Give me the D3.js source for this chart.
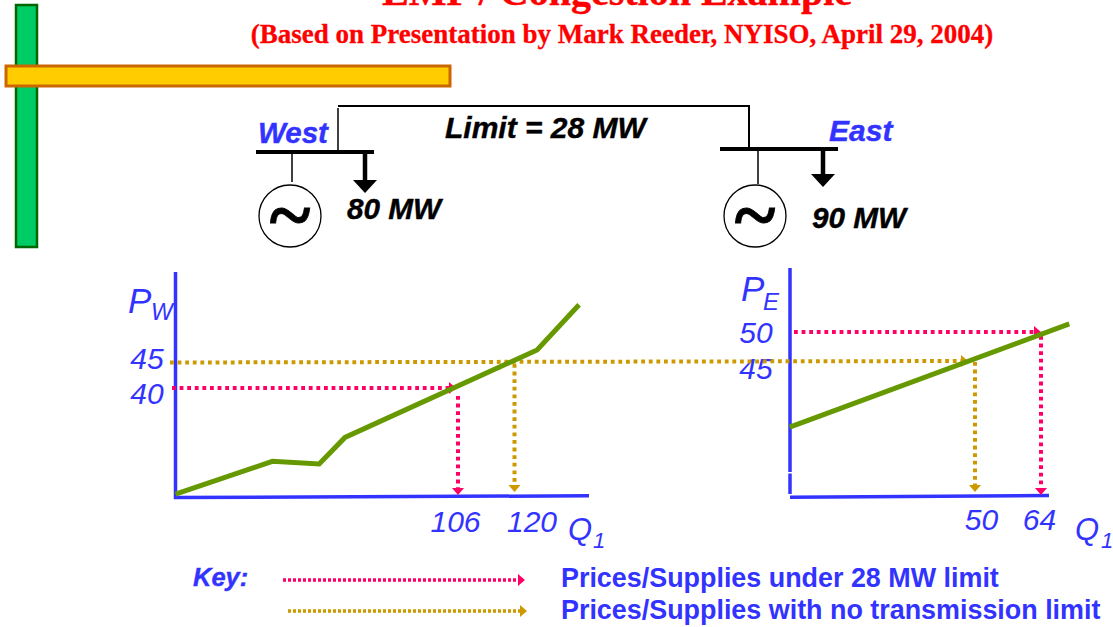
<!DOCTYPE html>
<html><head><meta charset="utf-8">
<script src="https://cdn.jsdelivr.net/npm/d3@7"></script>
<style>html,body{margin:0;padding:0;background:#fff;overflow:hidden}svg{display:block}</style>
</head><body><div id="c"></div>
<script>
// Data
const titleText = "LMP / Congestion Example";
const subtitleText = "(Based on Presentation by Mark Reeder, NYISO, April 29, 2004)";
const limitText = "Limit = 28 MW";
const westSupplyQ = [36, 60, 71.6, 78, 125.6, 136];
const westSupplyP = [19.6, 25.9, 25.4, 30.5, 47.3, 56];
const eastSupplyQ = [10.7, 70];
const eastSupplyP = [33.6, 51.4];
const westQTicks = [106, 120];
const westPTicks = [40, 45];
const eastQTicks = [50, 64];
const eastPTicks = [45, 50];
const westLimited = {p: 40, q: 106};
const westUnlimited = {p: 45, q: 120};
const eastLimited = {p: 50, q: 64};
const eastUnlimited = {p: 45, q: 50};
const keyLabels = ["Prices/Supplies under 28 MW limit", "Prices/Supplies with no transmission limit"];

const BLUE="#3333ff", GREEN="#669900", PINK="#ff0066", GOLD="#cc9900";
const SANS="'Liberation Sans',Arial,sans-serif", SERIF="'Liberation Serif',serif";
const svg=d3.select("#c").append("svg").attr("width",1113).attr("height",627);

// Scales
const xW=d3.scaleLinear().domain([106,120]).range([458,514.5]);
const yW=d3.scaleLinear().domain([40,45]).range([388,362]);
const xE=d3.scaleLinear().domain([50,64]).range([975,1041]);
const yE=d3.scaleLinear().domain([45,50]).range([361,332]);

function txt(s,x,y,size,fill,o={}){
  const t=svg.append("text").attr("x",x).attr("y",y).text(s)
   .attr("font-family",o.family||SANS).attr("font-size",size).attr("fill",fill)
   .attr("font-weight",o.weight||"normal").attr("font-style",o.style||"normal")
   .attr("text-anchor",o.anchor||"start");
  if(o.heavy) t.attr("stroke",fill).attr("stroke-width",o.heavy);
  return t;
}
function line(x1,y1,x2,y2,c,w,dash){
  const l=svg.append("line").attr("x1",x1).attr("y1",y1).attr("x2",x2).attr("y2",y2)
    .attr("stroke",c).attr("stroke-width",w);
  if(dash) l.attr("stroke-dasharray",dash);
  return l;
}
function head(x,y,dir,c,s=6){
  const p = dir==="r" ? [[x,y],[x-s-1,y-s],[x-s-1,y+s]] : [[x,y],[x-s,y-s-1],[x+s,y-s-1]];
  svg.append("path").attr("d",d3.line()(p)+"Z").attr("fill",c);
}

// Decorative bars
svg.append("rect").attr("x",16).attr("y",5).attr("width",21).attr("height",242)
  .attr("fill","#00cc66").attr("stroke","#006600").attr("stroke-width",2.5);
svg.append("rect").attr("x",6).attr("y",66).attr("width",444).attr("height",20)
  .attr("fill","#ffcc00").attr("stroke","#cc6600").attr("stroke-width",3);

// Titles
txt(titleText,617,5,40,"#ff0000",{family:SERIF,weight:"bold",anchor:"middle",heavy:.4});
txt(subtitleText,622,43,27,"#ff0000",{family:SERIF,weight:"bold",anchor:"middle",heavy:.3});

// One-line diagram
line(338,106,750,106,"#000",2);
line(338,108,338,151,"#000",1.5);
line(749,106,749,148,"#000",2);
line(256,152,374,152,"#000",4);
line(720,149,838,149,"#000",4);
line(292,153,292,182,"#000",1.5);
line(758,150,758,184,"#000",1.5);
line(365,153,365,184,"#000",4.5);
line(823,150,823,178,"#000",4.5);
head(365,193,"d","#000",12);
head(823,187,"d","#000",12);
svg.selectAll("circle.gen").data([290,755]).join("circle").attr("class","gen")
  .attr("cx",d=>d).attr("cy",216).attr("r",31).attr("fill","#fff").attr("stroke","#000").attr("stroke-width",1.3);
txt("~",290,241,78,"#000",{family:SERIF,weight:"bold",anchor:"middle",heavy:.8});
txt("~",755,241,78,"#000",{family:SERIF,weight:"bold",anchor:"middle",heavy:.8});
const bi={weight:"bold",style:"italic",heavy:.4};
txt("West",258,143,29.5,BLUE,bi);
txt("East",829,141,30,BLUE,bi);
txt(limitText,445,138,30,"#000",bi);
txt("80 MW",347,219,29.7,"#000",bi);
txt("90 MW",812,228,29.7,"#000",bi);

// Axes
function axis(gen,ticks,offs,attr){
  const g=svg.append("g").call(gen.tickValues(ticks).tickSize(0).tickFormat(d3.format("d")));
  g.select(".domain").remove();
  g.selectAll("text").attr("font-family",SANS).attr("font-size",30).attr("font-style","italic").attr("fill",BLUE)
    .attr("text-anchor","middle").attr(attr,0)
    .attr("dx",(d,i)=>offs[i][0]).attr("dy",(d,i)=>offs[i][1]);
}
axis(d3.axisBottom(xW),westQTicks,[[-3,532],[17,532]],"y");
axis(d3.axisLeft(yW),westPTicks,[[147,15],[147,6]],"x");
axis(d3.axisBottom(xE),eastQTicks,[[6,530],[-2,530]],"y");
axis(d3.axisLeft(yE),eastPTicks,[[756,17],[756,10]],"x");

line(175.5,272,175.5,499,BLUE,3.5);
line(174,497.5,589,495.8,BLUE,3.5);
line(790,268,790,472,BLUE,3.5);
line(790,473.5,790,494,BLUE,3.5);
line(790,497.3,1049,495.6,BLUE,3.5);

txt("P",128,313,35,BLUE,{style:"italic"});
txt("W",151,320,23,BLUE,{style:"italic"});
txt("P",741,301,35,BLUE,{style:"italic"});
txt("E",763,310,24,BLUE,{style:"italic"});
txt("Q",568,540,31,BLUE,{style:"italic"});
txt("1",593,548,22,BLUE,{style:"italic"});
txt("Q",1075,540,31,BLUE,{style:"italic"});
txt("1",1101,548,22,BLUE,{style:"italic"});

// Dotted guides
const D="3.8,3.8";
const W=4;
line(170,yW(westUnlimited.p)+.5,962,yE(eastUnlimited.p),GOLD,W,D);
head(968,yE(eastUnlimited.p),"r",GOLD,6);
line(172,yW(westLimited.p),449,yW(westLimited.p),PINK,W,D);
head(456,yW(westLimited.p),"r",PINK,6);
line(xW(westLimited.q),396,xW(westLimited.q),488,PINK,W,D);
head(xW(westLimited.q),495,"d",PINK,6);
line(xW(westUnlimited.q),364,xW(westUnlimited.q),485,GOLD,W,D);
head(xW(westUnlimited.q),492,"d",GOLD,6);
line(794,yE(eastLimited.p),1034,yE(eastLimited.p),PINK,W,D);
head(1041,yE(eastLimited.p),"r",PINK,6);
line(xE(eastLimited.q),336,xE(eastLimited.q),488,PINK,W,D);
head(xE(eastLimited.q),495,"d",PINK,6);
line(xE(eastUnlimited.q),362,xE(eastUnlimited.q),485,GOLD,W,D);
head(xE(eastUnlimited.q),492,"d",GOLD,6);

// Supply curves
const draw=(q,p,x,y)=>svg.append("path")
  .attr("d",d3.line().x(d=>x(d)).y((d,i)=>y(p[i]))(q))
  .attr("fill","none").attr("stroke",GREEN).attr("stroke-width",5).attr("stroke-linejoin","miter");
draw(westSupplyQ,westSupplyP,xW,yW);
draw(eastSupplyQ,eastSupplyP,xE,yE);

// Key
txt("Key:",193,586,25.5,BLUE,bi);
line(283,580,518,580,PINK,3.5,"3,2");
head(525,580,"r",PINK,6);
line(288,611,520,611,GOLD,3.5,"3,2");
head(527,611,"r",GOLD,6);
txt(keyLabels[0],561,587,26.9,BLUE,{weight:"bold"});
txt(keyLabels[1],561,619,26.9,BLUE,{weight:"bold"});
</script></body></html>
